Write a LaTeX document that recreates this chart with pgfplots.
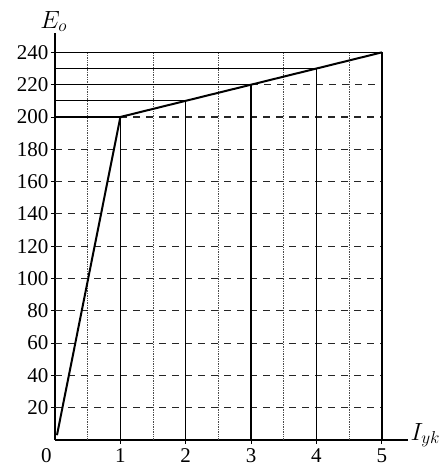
\documentclass[border=0pt]{standalone}
\usepackage{fontspec}
\setmainfont{Liberation Serif}
\usepackage{pgfplots}
\pgfplotsset{compat=1.18}
\begin{document}
\begin{tikzpicture}
\begin{axis}[
  scale only axis, width=353pt, height=407pt,
  xmin=0, xmax=5.4, ymin=0, ymax=252,
  axis lines=left, axis line style={-, line width=1.6pt},
  xtick={1,2,3,4,5}, ytick={20,40,...,240},
  tick style={black, line width=0.9pt}, major tick length=4pt,
  tick align=outside,
  ticklabel style={font=\fontsize{21}{23}\selectfont},
  yticklabel style={xshift=1pt},
  xticklabel style={yshift=-1pt},
  /pgf/number format/assume math mode=true,
  clip=false,
]
% dotted verticals
\foreach \x in {0.5,1.5,2.5,3.5,4.5}{
  \edef\tmp{\noexpand\addplot[black!70, densely dotted, line width=0.7pt] coordinates {(\x,0) (\x,240)};}\tmp
}
% dashed horizontals
\foreach \y in {20,40,...,180}{
  \edef\tmp{\noexpand\addplot[black!85, dash pattern=on 7pt off 6pt, line width=1.1pt] coordinates {(0,\y) (5,\y)};}\tmp
}
\addplot[black!85, dash pattern=on 7pt off 6pt, line width=1.1pt] coordinates {(1,200) (5,200)};
\addplot[black!85, dash pattern=on 7pt off 6pt, line width=1.1pt] coordinates {(3,220) (5,220)};
% solid horizontals
\addplot[black, line width=1.3pt] coordinates {(0,210) (2,210)};
\addplot[black, line width=1.3pt] coordinates {(0,220) (3,220)};
\addplot[black, line width=1.3pt] coordinates {(0,230) (4,230)};
\addplot[black, line width=1.3pt] coordinates {(0,240) (5,240)};
\addplot[black, line width=1.6pt] coordinates {(0,200) (1,200)};
% solid verticals
\addplot[black, line width=1.3pt] coordinates {(1,0) (1,200)};
\addplot[black, line width=1.3pt] coordinates {(2,0) (2,210)};
\addplot[black, line width=1.3pt] coordinates {(3,0) (3,220)};
\addplot[black, line width=1.3pt] coordinates {(4,0) (4,230)};
\addplot[black, line width=1.3pt] coordinates {(5,0) (5,240)};
% characteristic
\addplot[black, line width=2pt] coordinates {(0.03,3) (1,200) (2,210) (3,220) (4,230) (5,240)};
\node[anchor=north east, font=\fontsize{21}{23}\selectfont, inner sep=0pt] at (axis cs:-0.05,-5) {0};
\node[anchor=south, font=\fontsize{23}{25}\selectfont, inner sep=1pt] at (axis cs:-0.02,252) {$E_o$};
\node[anchor=west, font=\fontsize{23}{25}\selectfont, inner sep=1pt] at (axis cs:5.42,3) {$I_{yk}$};
\end{axis}
\path[use as bounding box] (-55pt,-28pt) rectangle (375pt,440pt);
\end{tikzpicture}
\end{document}
